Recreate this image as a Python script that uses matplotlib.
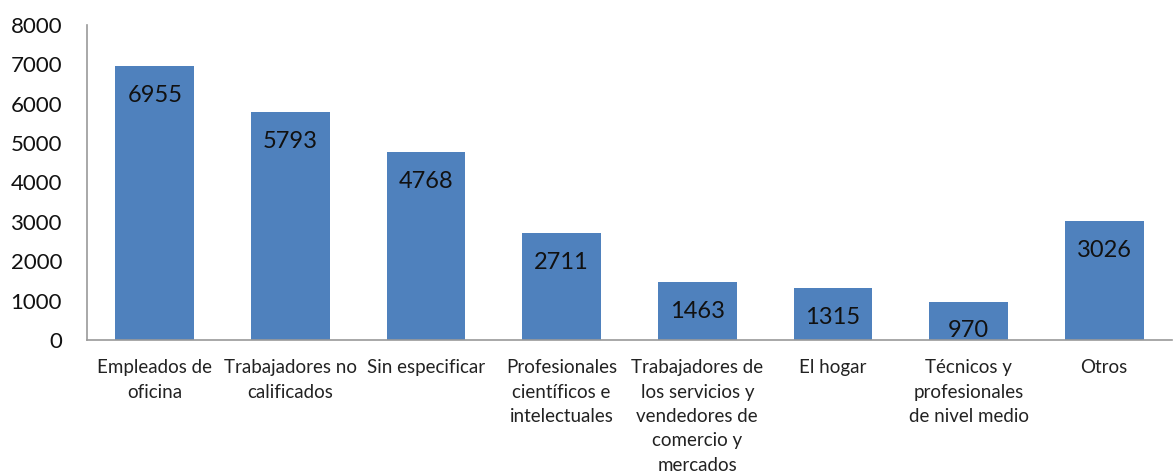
import matplotlib
matplotlib.use("Agg")
import matplotlib.pyplot as plt

categories = [
    "Empleados de\noficina",
    "Trabajadores no\ncalificados",
    "Sin especificar",
    "Profesionales\ncientíficos e\nintelectuales",
    "Trabajadores de\nlos servicios y\nvendedores de\ncomercio y\nmercados",
    "El hogar",
    "Técnicos y\nprofesionales\nde nivel medio",
    "Otros",
]
values = [6955, 5793, 4768, 2711, 1463, 1315, 970, 3026]
yticks = [0, 1000, 2000, 3000, 4000, 5000, 6000, 7000, 8000]

plt.rcParams['font.family'] = ['Lato', 'DejaVu Sans']

fig = plt.figure(figsize=(11.74, 4.75), dpi=100)
ax = fig.add_axes([87/1174, 1 - 340/475, (1172 - 87)/1174, (340 - 25)/475])

x = list(range(len(values)))
bars = ax.bar(x, values, width=0.58, color='#4F81BD', zorder=2)

for b, v in zip(bars, values):
    ax.annotate(str(v), (b.get_x() + b.get_width()/2, v),
                xytext=(0, -21), textcoords='offset points',
                ha='center', va='center', fontsize=17, color='#111111')

ax.set_xlim(-0.5, len(values) - 0.5)
ax.set_ylim(0, 8000)
ax.set_yticks(yticks)
ax.set_yticklabels([str(t) for t in yticks], fontsize=16, color='#111111')
ax.set_xticks(x)
ax.set_xticklabels(categories, fontsize=13.5, color='#222222', linespacing=1.52, va='top')

ax.tick_params(axis='y', length=0, pad=18)
ax.tick_params(axis='x', length=0, pad=14)

for s in ['top', 'right']:
    ax.spines[s].set_visible(False)
for s in ['left', 'bottom']:
    ax.spines[s].set_color('#9a9a9a')
    ax.spines[s].set_linewidth(1.2)

fig.savefig('out.png', dpi=100)
